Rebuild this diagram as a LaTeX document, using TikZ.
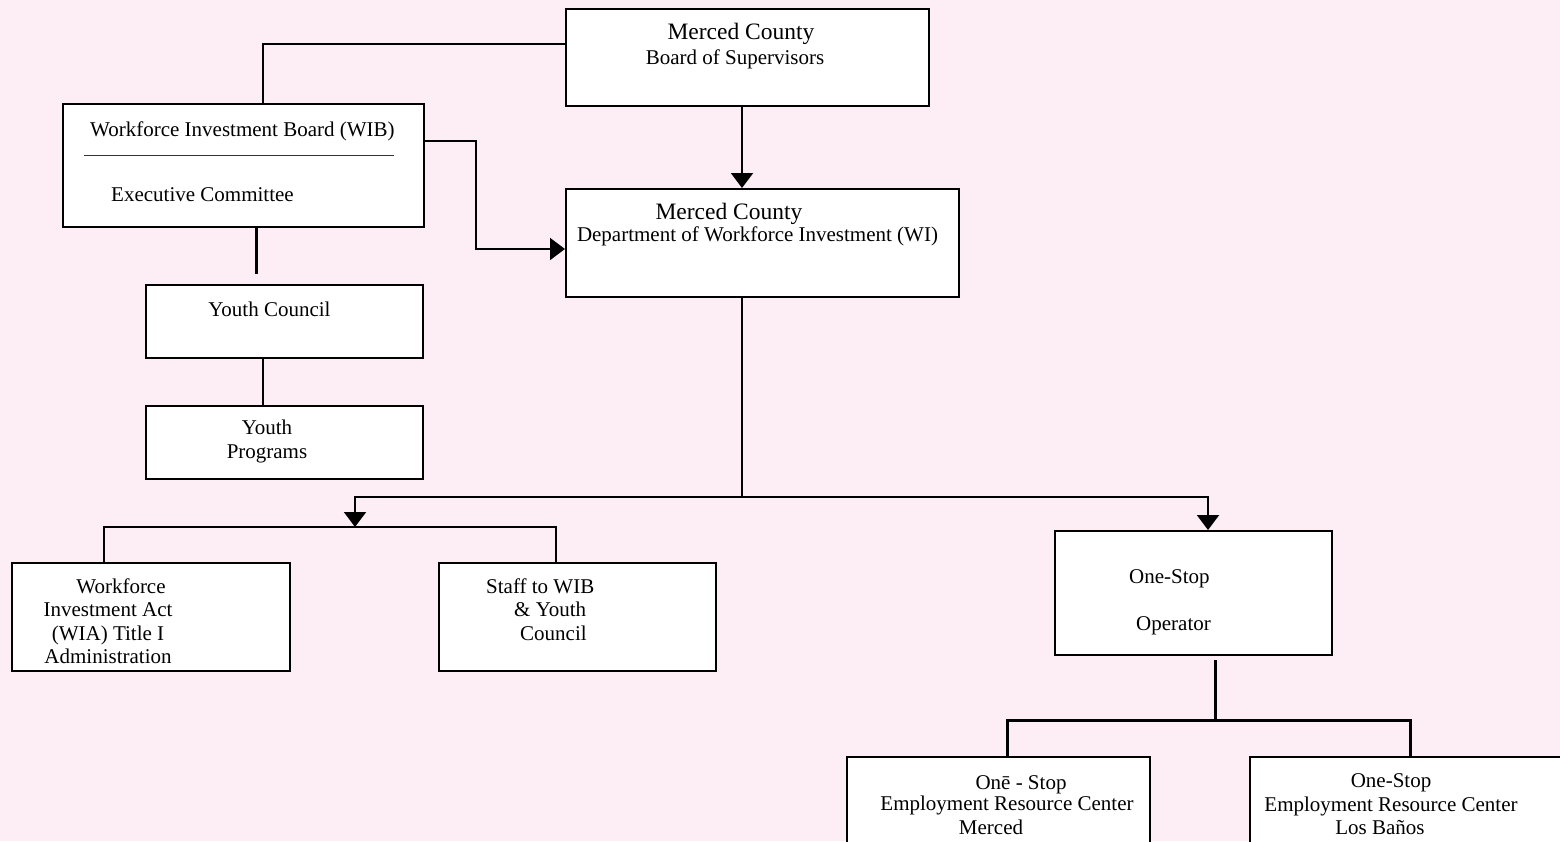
\documentclass[tikz,border=0pt]{standalone}
\usepackage{fontspec}
\setmainfont{Liberation Serif}
\usetikzlibrary{arrows.meta}
\definecolor{bgpink}{RGB}{253,238,246}

\begin{document}
\begin{tikzpicture}[x=1pt, y=-1pt,
    box/.style={draw, line width=2pt, fill=white, inner sep=0pt},
    txt/.style={inner sep=0pt, yshift=-2pt, align=center, font=\fontsize{21}{23.5}\selectfont},
    big/.style={inner sep=0pt, yshift=-2pt, font=\fontsize{23.5}{26}\selectfont},
    line/.style={line width=2pt},
    thickline/.style={line width=3pt},
    arr/.style={line width=2pt, -{Triangle[width=22pt, length=15pt]}}]
    \useasboundingbox (0, 0) rectangle (1560, 841);
    \clip (0, 0) rectangle (1560, 841);
    \fill[bgpink] (0, 0) rectangle (1560, 841);

    \node[box, minimum width=363pt, minimum height=97pt] (bos) at (747.5, 57.5) {};
    \node[box, minimum width=361pt, minimum height=123pt] (wib) at (243.5, 165.5) {};
    \node[box, minimum width=393pt, minimum height=108pt] (dwi) at (762.5, 243) {};
    \node[box, minimum width=277pt, minimum height=73pt] (yc) at (284.5, 321.5) {};
    \node[box, minimum width=277pt, minimum height=73pt] (yp) at (284.5, 442.5) {};
    \node[box, minimum width=278pt, minimum height=108pt] (wia) at (151, 617) {};
    \node[box, minimum width=277pt, minimum height=108pt] (staff) at (577.5, 617) {};
    \node[box, minimum width=277pt, minimum height=124pt] (oso) at (1193.5, 593) {};
    \node[box, minimum width=303pt, minimum height=120pt] (ercm) at (998.5, 817) {};
    \node[box, minimum width=350pt, minimum height=120pt] (ercl) at (1425, 817) {};

    \node[big] (bos-a) at (741, 32) {Merced County};
    \node[txt] (bos-b) at (735, 57) {Board of Supervisors};
    \node[big] (dwi-a) at (729, 212) {Merced County};
    \node[txt] (dwi-b) at (757.5, 234) {Department of Workforce Investment (WI)};
    \node[txt, anchor=west] (wib-a) at (90, 129) {Workforce Investment Board (WIB)};
    \draw[line width=1pt, black!80] (84, 155) -- (394, 155);
    \node[txt, anchor=west] (wib-b) at (111, 193) {Executive Committee};
    \node[txt] (yc-t) at (269.5, 307) {Youth Council};
    \node[txt] (yp-t) at (267, 439.5) {Youth\\Programs};
    \node[txt] (wia-t) at (108, 619) {\hspace*{26pt}Workforce\\Investment Act\\(WIA) Title I\\Administration};
    \node[txt, anchor=west, align=left] (staff-t) at (486, 607.5) {Staff to WIB\\\hspace*{28pt}\& Youth\\\hspace*{34pt}Council};
    \node[txt, anchor=west] (oso-a) at (1129, 577) {One-Stop};
    \node[txt, anchor=west] (oso-b) at (1136, 624) {Operator};
    \node[txt] (ercm-a) at (1021, 783) {Onē - Stop};
    \node[txt] (ercm-b) at (1007, 813.5) {Employment Resource Center\\Merced\hspace*{32pt}};
    \node[txt] (ercl-t) at (1391, 802.5) {One-Stop\\Employment Resource Center\\Los Baños\hspace*{22pt}};

    \coordinate (split) at (742, 497);
    \coordinate (lbar) at (355, 527);
    \coordinate (rbar) at (1215, 720);

    \draw[line] ([xshift=19.5pt]wib.north) |- ([yshift=13.5pt]bos.west);
    \draw[arr] ([xshift=-5.5pt]bos.south) -- ([xshift=-5.5pt]bos.south |- dwi.north);
    \draw[arr] ([yshift=24.5pt]wib.east) -- ++(51, 0) |- ([yshift=-6pt]dwi.west);
    \draw[thickline] ([xshift=12.5pt]wib.south) -- ++(0, 46);
    \draw[line] ([xshift=-21.5pt]yc.south) -- ([xshift=-21.5pt]yp.north);
    \draw[line] ([xshift=-20.5pt]dwi.south) -- (split);
    \draw[arr] (split) -| (lbar);
    \draw[arr] (split) -| ([xshift=14.5pt]oso.north);
    \draw[line] ([xshift=-47pt]wia.north) |- (lbar) -| ([xshift=-21.5pt]staff.north);
    \draw[thickline] ([xshift=21.5pt, yshift=-4pt]oso.south) -- (rbar);
    \draw[thickline] ([xshift=8.5pt]ercm.north) |- (rbar) -| ([xshift=-15pt]ercl.north);
\end{tikzpicture}
\end{document}
